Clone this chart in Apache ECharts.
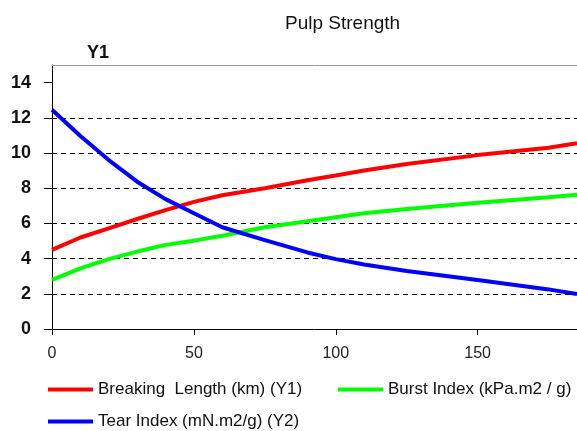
<!DOCTYPE html>
<html>
<head>
<meta charset="utf-8">
<script src="https://cdn.jsdelivr.net/npm/echarts@6/dist/echarts.min.js"></script>
<style>
html,body{margin:0;padding:0;background:#fff;}
#chart{width:577px;height:431px;}
</style>
</head>
<body>
<div id="chart"></div>
<script>
var titleText = 'Pulp Strength';
var yAxisTitle = 'Y1';
var xValues = [0, 10, 20, 30, 40, 50, 60, 75, 90, 100, 110, 125, 150, 175, 185];
var breakingLength = [4.5, 5.2, 5.72, 6.25, 6.75, 7.22, 7.6, 8.0, 8.45, 8.72, 9.01, 9.38, 9.88, 10.3, 10.55];
var burstIndex = [2.79, 3.45, 3.97, 4.4, 4.78, 5.02, 5.3, 5.78, 6.12, 6.35, 6.58, 6.82, 7.17, 7.48, 7.63];
var tearIndex = [12.46, 10.97, 9.6, 8.37, 7.38, 6.58, 5.78, 5.05, 4.35, 3.97, 3.66, 3.3, 2.78, 2.25, 1.99];
var seriesNames = ['Breaking  Length (km) (Y1)', 'Burst Index (kPa.m2 / g)', 'Tear Index (mN.m2/g) (Y2)'];
var xTicks = [0, 50, 100, 150];
var yTicks = [0, 2, 4, 6, 8, 10, 12, 14];

function pairs(ys) { return xValues.map(function (x, i) { return [x, ys[i]]; }); }

var chart = echarts.init(document.getElementById('chart'), null, {renderer: 'canvas'});
var font = 'Liberation Sans, Arial, sans-serif';
var legendBase = {
  orient: 'horizontal', padding: 0, itemWidth: 45, itemHeight: 4, icon: 'rect',
  textStyle: {fontFamily: font, fontSize: 17, color: '#111'}, selectedMode: false
};
chart.setOption({
  animation: false,
  backgroundColor: '#fff',
  title: [
    {text: titleText, left: 280, top: 9, textStyle: {fontFamily: font, fontSize: 19, fontWeight: 'normal', color: '#111'}},
    {text: yAxisTitle, left: 82, top: 39, textStyle: {fontFamily: font, fontSize: 18, fontWeight: 'bold', color: '#111'}}
  ],
  legend: [
    Object.assign({}, legendBase, {data: [seriesNames[0]], left: 48, top: 381}),
    Object.assign({}, legendBase, {data: [seriesNames[1]], left: 338, top: 381}),
    Object.assign({}, legendBase, {data: [seriesNames[2]], left: 48, top: 413})
  ],
  grid: {left: 52, right: 0, top: 65, bottom: 102, containLabel: false},
  xAxis: [
    {
      type: 'value', min: 0, max: 185, interval: 50, position: 'bottom',
      axisLine: {show: true, onZero: false, lineStyle: {color: '#000', width: 1}},
      axisTick: {show: true, length: 6, customValues: xTicks, lineStyle: {color: '#000'}},
      axisLabel: {customValues: xTicks, margin: 17, fontFamily: font, fontSize: 16, color: '#222'},
      splitLine: {show: false}
    },
    {
      type: 'value', min: 0, max: 185, position: 'top',
      axisLine: {show: true, onZero: false, lineStyle: {color: '#9a9a9a', width: 1}},
      axisTick: {show: false}, axisLabel: {show: false}, splitLine: {show: false}
    }
  ],
  yAxis: {
    type: 'value', min: 0, max: 15, interval: 2,
    axisLine: {show: true, onZero: false, lineStyle: {color: '#000', width: 1}},
    axisTick: {show: true, length: 8, customValues: yTicks, lineStyle: {color: '#000'}},
    axisLabel: {customValues: yTicks, margin: 21, fontFamily: font, fontSize: 18, fontWeight: 'bold', color: '#111'},
    splitLine: {show: true, showMinLine: false, showMaxLine: false, lineStyle: {color: '#000', type: [5, 4], width: 1}}
  },
  series: [
    {name: seriesNames[0], type: 'line', data: pairs(breakingLength), showSymbol: false, smooth: false, lineStyle: {color: '#ff0000', width: 4}, itemStyle: {color: '#ff0000'}},
    {name: seriesNames[1], type: 'line', data: pairs(burstIndex), showSymbol: false, smooth: false, lineStyle: {color: '#00ff00', width: 4}, itemStyle: {color: '#00ff00'}},
    {name: seriesNames[2], type: 'line', data: pairs(tearIndex), showSymbol: false, smooth: false, lineStyle: {color: '#0000ff', width: 4}, itemStyle: {color: '#0000ff'}}
  ]
});
</script>
</body>
</html>
